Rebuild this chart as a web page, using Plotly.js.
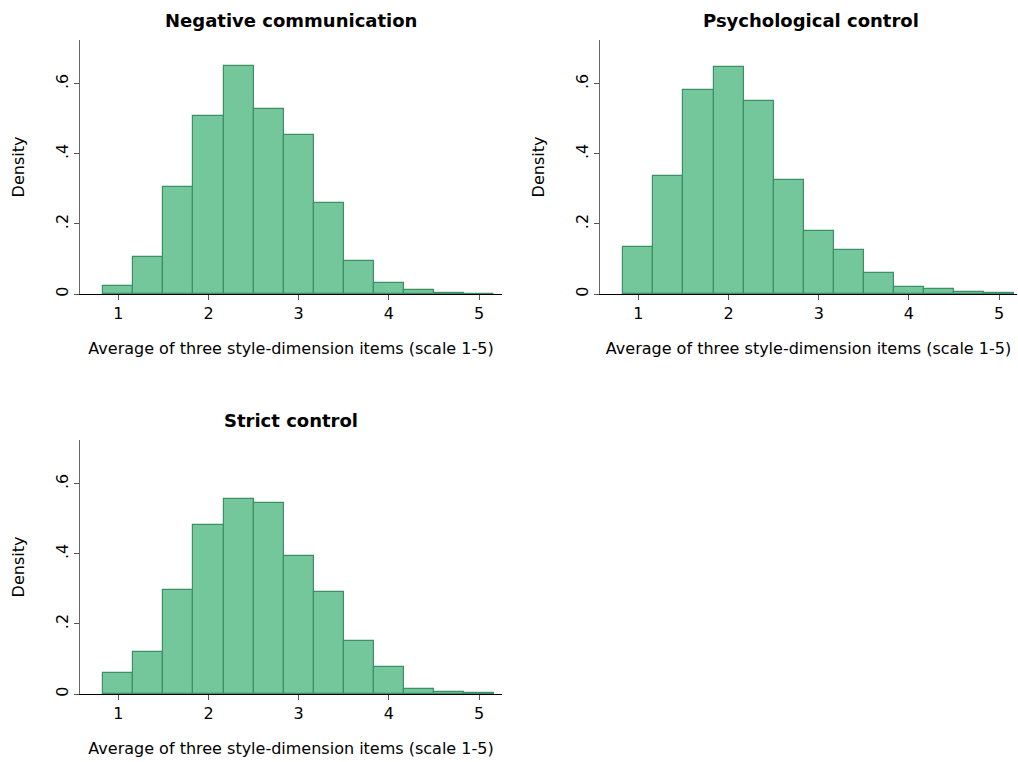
<!DOCTYPE html>
<html>
<head>
<meta charset="utf-8">
<script src="https://cdn.plot.ly/plotly-3.0.1.min.js"></script>
<style>html,body{margin:0;padding:0;background:#fff;}#chart{width:1018px;height:762px;}</style>
</head>
<body>
<div id="chart"></div>
<script>
// Bin midpoints (bin width 1/3)
const binCenters = [1, 1.3333, 1.6667, 2, 2.3333, 2.6667, 3, 3.3333, 3.6667, 4, 4.3333, 4.6667, 5];
const binWidth = 1/3;

const panelTitles = ["Negative communication", "Psychological control", "Strict control"];

const negativeCommunication = [0.024, 0.105, 0.306, 0.508, 0.651, 0.527, 0.455, 0.259, 0.095, 0.032, 0.011, 0.003, 0.001];
const psychologicalControl  = [0.133, 0.336, 0.581, 0.649, 0.551, 0.324, 0.179, 0.125, 0.059, 0.019, 0.013, 0.007, 0.002];
const strictControl         = [0.060, 0.120, 0.296, 0.481, 0.557, 0.546, 0.393, 0.290, 0.150, 0.076, 0.013, 0.005, 0.002];

const yTickVals = [0, 0.2, 0.4, 0.6];
const yTickText = ["0", ".2", ".4", ".6"];
const xTickVals = [1, 2, 3, 4, 5];
const xTickText = ["1", "2", "3", "4", "5"];

const xTitle = "Average of three style-dimension items (scale 1-5)";
const yTitle = "Density";

const FONT = "'DejaVu Sans', sans-serif";
const fillColor = "rgb(116,199,155)";
const lineColor = "rgb(62,143,102)";

const series = [negativeCommunication, psychologicalControl, strictControl];
const axisIds = [["x","y"],["x2","y2"],["x3","y3"]];

const traces = series.map((vals, i) => ({
  type: "bar",
  x: binCenters,
  y: vals,
  width: binCenters.map(() => binWidth),
  xaxis: axisIds[i][0],
  yaxis: axisIds[i][1],
  marker: {color: fillColor, line: {color: lineColor, width: 1.2}},
  hoverinfo: "x+y",
  showlegend: false
}));

const W = 1018, H = 762;
function xd(a, b){ return [a/W, b/W]; }
function yd(top, bottom){ return [(H-bottom)/H, (H-top)/H]; }

function xAxis(domain, range, anchor){
  return {
    domain: domain, range: range, anchor: anchor,
    showgrid: false, zeroline: false,
    showline: true, linecolor: "#000", linewidth: 1,
    ticks: "outside", ticklen: 5, tickcolor: "#555", tickwidth: 1,
    tickvals: xTickVals, ticktext: xTickText,
    tickfont: {family: FONT, size: 16, color: "#000"},
    title: {text: xTitle, font: {family: FONT, size: 16, color: "#000"}, standoff: 20}
  };
}
function yAxis(domain, anchor){
  return {
    domain: domain, range: [0, 0.725], anchor: anchor,
    showgrid: false, zeroline: false,
    showline: true, linecolor: "#666", linewidth: 1,
    ticks: "outside", ticklen: 5, tickcolor: "#555", tickwidth: 1,
    tickvals: yTickVals, ticktext: yTickText, tickangle: -90,
    tickfont: {family: FONT, size: 16, color: "#000"},
    title: {text: yTitle, font: {family: FONT, size: 16, color: "#000"}, standoff: 23}
  };
}

const xr = [0.575, 5.255];
const xr2 = [0.575, 5.198];

const layout = {
  width: W, height: H,
  margin: {l: 0, r: 0, t: 0, b: 0},
  paper_bgcolor: "#fff", plot_bgcolor: "#fff",
  bargap: 0,
  xaxis:  xAxis(xd(80, 502), xr, "y"),
  yaxis:  yAxis(yd(40, 294), "x"),
  xaxis2: xAxis(xd(600, 1017), xr2, "y2"),
  yaxis2: yAxis(yd(40, 294), "x2"),
  xaxis3: xAxis(xd(80, 502), xr, "y3"),
  yaxis3: yAxis(yd(440, 694), "x3"),
  annotations: [
    {text: "<b>" + panelTitles[0] + "</b>", x: 291/W, y: (H-20)/H, xref: "paper", yref: "paper", showarrow: false, xanchor: "center", yanchor: "middle", font: {family: FONT, size: 18, color: "#000"}},
    {text: "<b>" + panelTitles[1] + "</b>", x: 811/W, y: (H-20)/H, xref: "paper", yref: "paper", showarrow: false, xanchor: "center", yanchor: "middle", font: {family: FONT, size: 18, color: "#000"}},
    {text: "<b>" + panelTitles[2] + "</b>", x: 291/W, y: (H-420)/H, xref: "paper", yref: "paper", showarrow: false, xanchor: "center", yanchor: "middle", font: {family: FONT, size: 18, color: "#000"}}
  ]
};

Plotly.newPlot("chart", traces, layout, {displayModeBar: false, staticPlot: false});
</script>
</body>
</html>
